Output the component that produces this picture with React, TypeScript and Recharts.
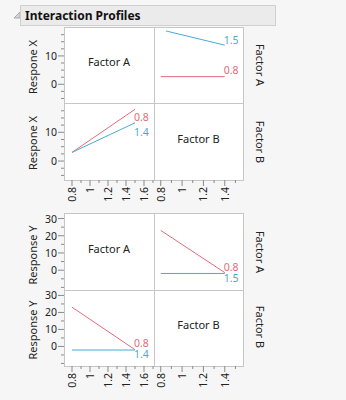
import { LineChart, Line, XAxis, YAxis } from "recharts";

const FONT = '"Noto Sans", sans-serif';
const RED = "#e36b78";
const BLUE = "#47acd2";
const FRAME = "#c6c6c6";
const TICK = "#8a8a8a";

// tick values per axis
const xTicksA = [0.8, 0.9, 1, 1.1, 1.2, 1.3, 1.4, 1.5, 1.6, 1.7];
const xLabelsA = [0.8, 1, 1.2, 1.4, 1.6];
const xTicksB = [0.8, 0.9, 1, 1.1, 1.2, 1.3, 1.4, 1.5];
const xLabelsB = [0.8, 1, 1.2, 1.4];
const yTicksX = [-5, -2.5, 0, 2.5, 5, 7.5, 10, 12.5, 15, 17.5];
const yLabelsX = [0, 10];
const yTicksY = [-10, -5, 0, 5, 10, 15, 20, 25, 30];
const yLabelsY = [0, 10, 20, 30];

// Response X
const respX_byB_A08 = [{ x: 0.8, y: 2.7 }, { x: 1.4, y: 2.7 }];
const respX_byB_A15 = [{ x: 0.85, y: 18.8 }, { x: 1.4, y: 13.8 }];
const respX_byA_B08 = [{ x: 0.8, y: 3.0 }, { x: 1.5, y: 18.0 }];
const respX_byA_B14 = [{ x: 0.8, y: 3.0 }, { x: 1.5, y: 13.3 }];

// Response Y
const respY_byB_A08 = [{ x: 0.8, y: 23.1 }, { x: 1.4, y: -1.4 }];
const respY_byB_A15 = [{ x: 0.8, y: -1.9 }, { x: 1.4, y: -1.9 }];
const respY_byA_B08 = [{ x: 0.8, y: 23.1 }, { x: 1.5, y: -1.9 }];
const respY_byA_B14 = [{ x: 0.8, y: -2.1 }, { x: 1.5, y: -2.1 }];

const domA = [0.711, 1.711];
const domB = [0.737, 1.571];
const domX = [-6.6, 20.2];
const domY = [-11.5, 33.2];

const COL_X = [64, 154];
const COL_W = [90, 89];
const Y_AXIS_W = 64;
const X_AXIS_H = 30;
const PAD = 8; // room so texts near the frame are not clipped by the svg

const fmt = (v: number) => String(v);

function XTick(props: any) {
  const { x, y, payload, labels } = props;
  const major = labels.includes(payload.value);
  return (
    <g>
      <line x1={x} x2={x} y1={y} y2={y + (major ? 6 : 3)} stroke={TICK} />
      {major && (
        <text
          x={x}
          y={y + 7}
          transform={`rotate(-90 ${x} ${y + 7})`}
          textAnchor="end"
          dominantBaseline="central"
          fontSize={10.5}
          fill="#222"
          fontFamily={FONT}
        >
          {fmt(payload.value)}
        </text>
      )}
    </g>
  );
}

function YTick(props: any) {
  const { x, y, payload, labels } = props;
  const major = labels.includes(payload.value);
  return (
    <g>
      <line x1={x - (major ? 6 : 3)} x2={x} y1={y} y2={y} stroke={TICK} />
      {major && (
        <text
          x={x - 7}
          y={y}
          textAnchor="end"
          dominantBaseline="central"
          fontSize={10.5}
          fill="#222"
          fontFamily={FONT}
        >
          {fmt(payload.value)}
        </text>
      )}
    </g>
  );
}

type Series = { name: string; data: { x: number; y: number }[]; color: string; dx: number; dy: number };

function Panel(props: {
  col: number;
  top: number;
  height: number;
  showX: boolean;
  xDomain: number[];
  yDomain: number[];
  xTicks: number[];
  xLabels: number[];
  yTicks: number[];
  yLabels: number[];
  series: Series[];
  text?: string;
}) {
  const { col, top, height, showX, series } = props;
  const showY = col === 0;
  const left = showY ? COL_X[0] - Y_AXIS_W : COL_X[1];
  const w = COL_W[col] + (showY ? Y_AXIS_W : 0);
  const h = height + (showX ? X_AXIS_H : 0);
  return (
    <div style={{ position: "absolute", left, top: top - PAD, width: w + PAD, height: h + 2 * PAD }}>
      <LineChart
        width={w + PAD}
        height={h + 2 * PAD}
        margin={{ top: PAD, right: PAD, bottom: PAD, left: 0 }}
      >
        <XAxis
          type="number"
          dataKey="x"
          domain={props.xDomain}
          ticks={props.xTicks}
          allowDataOverflow
          interval={0}
          hide={!showX}
          height={X_AXIS_H}
          axisLine={false}
          tickLine={false}
          tickSize={0}
          tickMargin={0}
          tick={<XTick labels={props.xLabels} />}
        />
        <YAxis
          type="number"
          dataKey="y"
          domain={props.yDomain}
          ticks={props.yTicks}
          allowDataOverflow
          interval={0}
          hide={!showY}
          width={Y_AXIS_W}
          axisLine={false}
          tickLine={false}
          tickSize={0}
          tickMargin={0}
          tick={<YTick labels={props.yLabels} />}
        />
        {series.map((s) => (
          <Line
            key={s.name + s.color}
            data={s.data}
            dataKey="y"
            stroke={s.color}
            strokeWidth={1}
            dot={false}
            isAnimationActive={false}
            label={(p: any) =>
              p.index === s.data.length - 1 ? (
                <text
                  key={"l" + s.name}
                  x={p.x + s.dx}
                  y={p.y + s.dy}
                  fill={s.color}
                  fontSize={10.5}
                  fontFamily={FONT}
                  dominantBaseline="central"
                >
                  {s.name}
                </text>
              ) : null
            }
          />
        ))}
      </LineChart>
      {props.text && (
        <div
          style={{
            position: "absolute",
            left: (showY ? Y_AXIS_W : 0) + COL_W[col] / 2,
            top: PAD + height / 2 - 4,
            transform: "translate(-50%, -50%)",
            fontSize: 11,
            color: "#222",
            whiteSpace: "nowrap",
          }}
        >
          {props.text}
        </div>
      )}
    </div>
  );
}

function SideLabel({ x, y, text, angle }: { x: number; y: number; text: string; angle: number }) {
  return (
    <div
      style={{
        position: "absolute",
        left: x,
        top: y,
        transform: `translate(-50%, -50%) rotate(${angle}deg)`,
        fontSize: 11,
        color: "#222",
        whiteSpace: "nowrap",
      }}
    >
      {text}
    </div>
  );
}

function Frame({ top, height, split }: { top: number; height: number; split: number }) {
  return (
    <>
      <div
        style={{
          position: "absolute",
          left: 64,
          top,
          width: 180,
          height: height + 1,
          background: "#fff",
          border: `1px solid ${FRAME}`,
          boxSizing: "border-box",
        }}
      />
      <div style={{ position: "absolute", left: 154, top, width: 1, height, background: FRAME }} />
      <div style={{ position: "absolute", left: 64, top: split, width: 180, height: 1, background: FRAME }} />
    </>
  );
}

export default function App() {
  const rowTops = [27, 103, 213, 290];
  const rowH = [76, 77, 77, 76];
  const common = (r: number, c: number) => ({
    col: c,
    top: rowTops[r],
    height: rowH[r],
    showX: r === 1 || r === 3,
    xDomain: c === 0 ? domA : domB,
    xTicks: c === 0 ? xTicksA : xTicksB,
    xLabels: c === 0 ? xLabelsA : xLabelsB,
    yDomain: r < 2 ? domX : domY,
    yTicks: r < 2 ? yTicksX : yTicksY,
    yLabels: r < 2 ? yLabelsX : yLabelsY,
  });

  return (
    <div
      style={{
        position: "absolute",
        left: 0,
        top: 0,
        width: 346,
        height: 400,
        background: "#f6f6f6",
        fontFamily: FONT,
        overflow: "hidden",
      }}
    >
      <svg style={{ position: "absolute", left: 0, top: 0 }} width={24} height={24}>
        <polygon points="14,18 20,18 20,12" fill="#d6d6d6" stroke="#9a9a9a" strokeWidth={0.8} />
      </svg>
      <div
        style={{
          position: "absolute",
          left: 20,
          top: 5,
          width: 256,
          height: 21,
          background: "#ebebeb",
          border: "1px solid #d0d0d0",
          boxSizing: "border-box",
          fontWeight: 700,
          fontSize: 12,
          lineHeight: "19px",
          paddingLeft: 4,
          color: "#111",
        }}
      >
        Interaction Profiles
      </div>

      <Frame top={27} height={153} split={103} />
      <Frame top={213} height={153} split={290} />

      <Panel {...common(0, 0)} series={[]} text="Factor A" />
      <Panel
        {...common(0, 1)}
        series={[
          { name: "1.5", data: respX_byB_A15, color: BLUE, dx: -1, dy: -5 },
          { name: "0.8", data: respX_byB_A08, color: RED, dx: -1, dy: -6.5 },
        ]}
      />
      <Panel
        {...common(1, 0)}
        series={[
          { name: "0.8", data: respX_byA_B08, color: RED, dx: -1, dy: 7.5 },
          { name: "1.4", data: respX_byA_B14, color: BLUE, dx: -1, dy: 9.5 },
        ]}
      />
      <Panel {...common(1, 1)} series={[]} text="Factor B" />

      <Panel {...common(2, 0)} series={[]} text="Factor A" />
      <Panel
        {...common(2, 1)}
        series={[
          { name: "0.8", data: respY_byB_A08, color: RED, dx: -1, dy: -5.5 },
          { name: "1.5", data: respY_byB_A15, color: BLUE, dx: -1, dy: 5 },
        ]}
      />
      <Panel
        {...common(3, 0)}
        series={[
          { name: "0.8", data: respY_byA_B08, color: RED, dx: -1, dy: -6.5 },
          { name: "1.4", data: respY_byA_B14, color: BLUE, dx: -1, dy: 4 },
        ]}
      />
      <Panel {...common(3, 1)} series={[]} text="Factor B" />

      <SideLabel x={32} y={67} text="Respone X" angle={-90} />
      <SideLabel x={32} y={143} text="Respone X" angle={-90} />
      <SideLabel x={32} y={255} text="Response Y" angle={-90} />
      <SideLabel x={32} y={330} text="Response Y" angle={-90} />

      <SideLabel x={260} y={65} text="Factor A" angle={90} />
      <SideLabel x={260} y={142} text="Factor B" angle={90} />
      <SideLabel x={260} y={252} text="Factor A" angle={90} />
      <SideLabel x={260} y={327} text="Factor B" angle={90} />
    </div>
  );
}
